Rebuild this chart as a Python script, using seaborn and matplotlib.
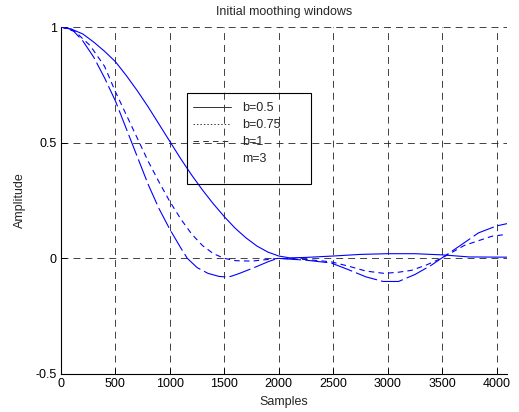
import matplotlib
matplotlib.use("Agg")
import matplotlib.pyplot as plt
import seaborn as sns
import pandas as pd
from matplotlib.lines import Line2D
from matplotlib.patches import Rectangle

# ---- data ----
x_b05 = [0, 100, 200, 300, 400, 500, 600, 700, 800, 900, 1000, 1100, 1200, 1300,
         1400, 1500, 1600, 1700, 1800, 1900, 2000, 2100, 2250, 2500, 2750, 3000,
         3250, 3500, 3750, 4096]
y_b05 = [1.0, 0.99, 0.97, 0.935, 0.895, 0.85, 0.79, 0.725, 0.655, 0.58, 0.505, 0.43,
         0.36, 0.295, 0.235, 0.18, 0.13, 0.088, 0.053, 0.027, 0.01, 0.002, 0.004,
         0.01, 0.017, 0.02, 0.02, 0.015, 0.006, 0.005]

x_b075 = [0, 100, 200, 300, 400, 500, 600, 700, 800, 900, 1000, 1100, 1160, 1250,
          1350, 1450, 1500, 1560, 1640, 1800, 1900, 1990, 2250, 2480, 2645, 2800,
          2958, 3100, 3250, 3400, 3493, 3650, 3834, 4000, 4096]
y_b075 = [1.0, 0.99, 0.94, 0.87, 0.78, 0.68, 0.56, 0.44, 0.32, 0.215, 0.125, 0.045,
          0.0, -0.04, -0.065, -0.078, -0.08, -0.078, -0.065, -0.035, -0.015, 0.0,
          -0.008, -0.02, -0.05, -0.08, -0.10, -0.10, -0.07, -0.03, 0.0, 0.05, 0.11,
          0.14, 0.15]

x_b1 = [0, 130, 267, 400, 500, 600, 700, 800, 900, 1000, 1100, 1200, 1300, 1400,
        1500, 1600, 1750, 1900, 2000, 2250, 2480, 2650, 2800, 2968, 3100, 3217,
        3350, 3493, 3705, 3954, 4096]
y_b1 = [1.0, 0.98, 0.92, 0.83, 0.72, 0.62, 0.52, 0.42, 0.33, 0.245, 0.17, 0.105, 0.055,
        0.02, 0.0, -0.01, -0.012, -0.005, 0.0, -0.005, -0.015, -0.035, -0.055,
        -0.065, -0.06, -0.052, -0.03, 0.0, 0.056, 0.095, 0.104]

legend_labels = ["b=0.5", "b=0.75", "b=1", "m=3"]
x_ticks = [0, 500, 1000, 1500, 2000, 2500, 3000, 3500, 4000]
y_ticks = [-0.5, 0, 0.5, 1]
y_tick_labels = ["-0.5", "0", "0.5", "1"]

# ---- style ----
sns.set_theme(style="white")
plt.rcParams["font.family"] = ["Liberation Sans", "DejaVu Sans"]
plt.rcParams["lines.scale_dashes"] = False

fig = plt.figure(figsize=(5.19, 4.12), dpi=100)
ax = fig.add_axes([61 / 519, 1 - 374 / 412, 446 / 519, 347 / 412])

df1 = pd.DataFrame({"x": x_b05, "y": y_b05})
df2 = pd.DataFrame({"x": x_b075, "y": y_b075})
df3 = pd.DataFrame({"x": x_b1, "y": y_b1})

sns.lineplot(data=df1, x="x", y="y", ax=ax, color="#0000ff", lw=0.8,
             estimator=None, sort=False, zorder=3)
sns.lineplot(data=df2, x="x", y="y", ax=ax, color="#0000ff", lw=0.8,
             linestyle=(0, (16, 3)), estimator=None, sort=False, zorder=3)
sns.lineplot(data=df3, x="x", y="y", ax=ax, color="#0000ff", lw=0.8,
             linestyle=(0, (4, 3)), estimator=None, sort=False, zorder=3)

ax.set_xlim(0, 4096)
ax.set_ylim(-0.5, 1)
ax.set_xticks(x_ticks)
ax.set_xticklabels([str(t) for t in x_ticks])
ax.set_yticks(y_ticks)
ax.set_yticklabels(y_tick_labels)
ax.tick_params(direction="in", length=4, width=0.7, colors="black",
               labelsize=9, pad=3)
ax.tick_params(axis="x", bottom=True, top=False)
ax.tick_params(axis="y", left=True, right=False)

ax.grid(True, color="#222222", linestyle=(0, (5, 3.6)), linewidth=0.6)
for side in ["top", "right"]:
    ax.spines[side].set_visible(False)
for side in ["left", "bottom"]:
    ax.spines[side].set_color("black")
    ax.spines[side].set_linewidth(0.8)

ax.set_title("Initial moothing windows", fontsize=9, pad=9)
ax.set_xlabel("Samples", fontsize=9, labelpad=4)
ax.set_ylabel("Amplitude", fontsize=9, labelpad=7)

handles = [
    Line2D([], [], color="#333333", lw=0.7, linestyle="-"),
    Line2D([], [], color="#333333", lw=0.7, linestyle=(0, (1, 1.5))),
    Line2D([], [], color="#333333", lw=0.7, linestyle=(0, (4, 3))),
    Line2D([], [], color="none", lw=0),
]
leg = ax.legend(handles, legend_labels, loc="upper left",
                bbox_to_anchor=(0.296, 0.783), fontsize=9,
                frameon=False, handlelength=3.0, labelspacing=0.4,
                borderpad=0, handletextpad=0.95, borderaxespad=0)
# legend box (MATLAB style, transparent)
ax.add_patch(Rectangle((0.2825, 0.5476), 0.278, 0.2624, transform=ax.transAxes,
                       fill=False, edgecolor="black", linewidth=0.8, zorder=5))

fig.savefig("out.png", dpi=100)
